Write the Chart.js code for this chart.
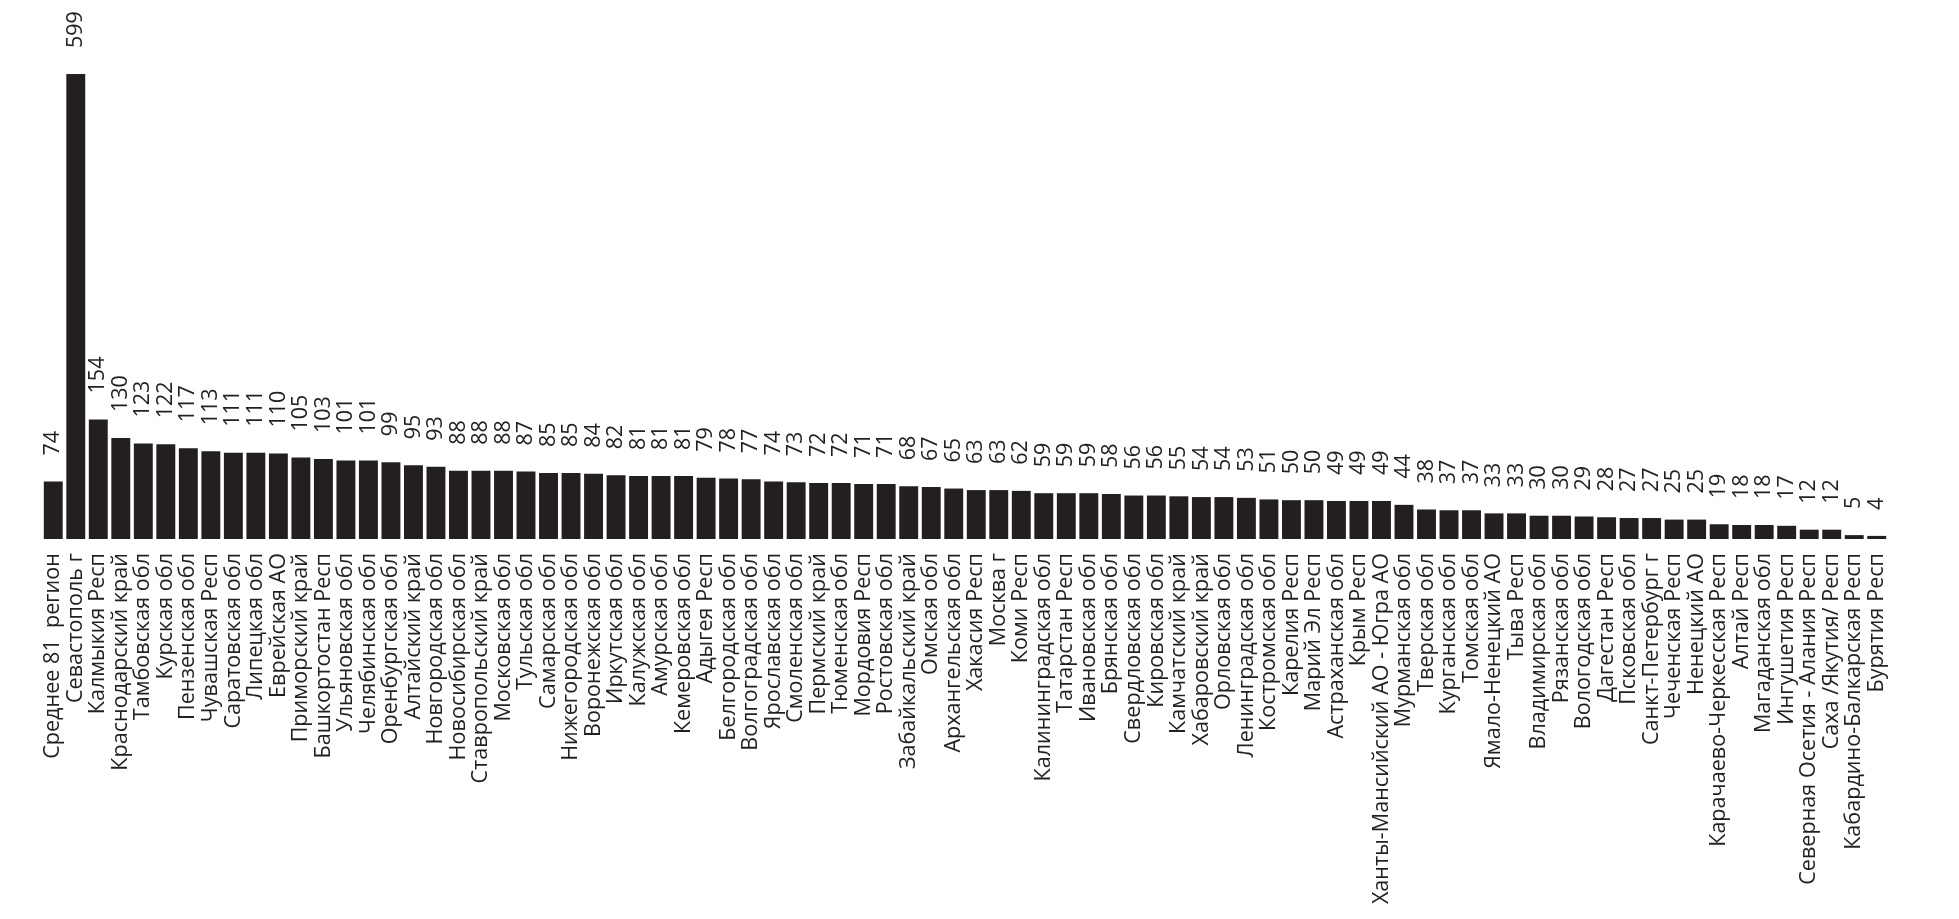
<!DOCTYPE html>
<html>
<head>
<meta charset="utf-8">
<script src="https://cdn.jsdelivr.net/npm/chart.js@4.4.1/dist/chart.umd.min.js"></script>
<style>
  html, body { margin: 0; padding: 0; background: #ffffff; }
  #c { display: block; }
</style>
</head>
<body>
<canvas id="c" width="1959" height="919"></canvas>
<script>
const categories = [
  "Среднее 81  регион", "Севастополь г", "Калмыкия Респ", "Краснодарский край", "Тамбовская обл",
  "Курская обл", "Пензенская обл", "Чувашская Респ", "Саратовская обл", "Липецкая обл",
  "Еврейская АО", "Приморский край", "Башкортостан Респ", "Ульяновская обл", "Челябинская обл",
  "Оренбургская обл", "Алтайский край", "Новгородская обл", "Новосибирская обл", "Ставропольский край",
  "Московская обл", "Тульская обл", "Самарская обл", "Нижегородская обл", "Воронежская обл",
  "Иркутская обл", "Калужская обл", "Амурская обл", "Кемеровская обл", "Адыгея Респ",
  "Белгородская обл", "Волгоградская обл", "Ярославская обл", "Смоленская обл", "Пермский край",
  "Тюменская обл", "Мордовия Респ", "Ростовская обл", "Забайкальский край", "Омская обл",
  "Архангельская обл", "Хакасия Респ", "Москва г", "Коми Респ", "Калининградская обл",
  "Татарстан Респ", "Ивановская обл", "Брянская обл", "Свердловская обл", "Кировская обл",
  "Камчатский край", "Хабаровский край", "Орловская обл", "Ленинградская обл", "Костромская обл",
  "Карелия Респ", "Марий Эл Респ", "Астраханская обл", "Крым Респ", "Ханты-Мансийский АО - Югра АО",
  "Мурманская обл", "Тверская обл", "Курганская обл", "Томская обл", "Ямало-Ненецкий АО",
  "Тыва Респ", "Владимирская обл", "Рязанская обл", "Вологодская обл", "Дагестан Респ",
  "Псковская обл", "Санкт-Петербург г", "Чеченская Респ", "Ненецкий АО", "Карачаево-Черкесская Респ",
  "Алтай Респ", "Магаданская обл", "Ингушетия Респ", "Северная Осетия - Алания Респ", "Саха /Якутия/ Респ",
  "Кабардино-Балкарская Респ", "Бурятия Респ"
];
const values = [
  74, 599, 154, 130, 123,
  122, 117, 113, 111, 111,
  110, 105, 103, 101, 101,
  99, 95, 93, 88, 88,
  88, 87, 85, 85, 84,
  82, 81, 81, 81, 79,
  78, 77, 74, 73, 72,
  72, 71, 71, 68, 67,
  65, 63, 63, 62, 59,
  59, 59, 58, 56, 56,
  55, 54, 54, 53, 51,
  50, 50, 49, 49, 49,
  44, 38, 37, 37, 33,
  33, 30, 30, 29, 28,
  27, 27, 25, 25, 19,
  18, 18, 17, 12, 12,
  5, 4
];

const FONT = '"Open Sans", "Noto Sans", sans-serif';
const INK = '#231f20';

const valueLabels = {
  id: 'valueLabels',
  afterDatasetsDraw(chart) {
    const ctx = chart.ctx;
    const meta = chart.getDatasetMeta(0);
    ctx.save();
    ctx.fillStyle = INK;
    ctx.font = '21.5px ' + FONT;
    ctx.textAlign = 'left';
    ctx.textBaseline = 'middle';
    meta.data.forEach((bar, i) => {
      ctx.save();
      ctx.translate(bar.x, bar.y - 26);
      ctx.rotate(-Math.PI / 2);
      ctx.fillText(String(values[i]), 0, 0);
      ctx.restore();
    });
    ctx.restore();
  }
};

new Chart(document.getElementById('c'), {
  type: 'bar',
  data: {
    labels: categories,
    datasets: [{
      data: values,
      backgroundColor: INK,
      borderWidth: 0,
      barPercentage: 0.84,
      categoryPercentage: 1.0
    }]
  },
  options: {
    responsive: false,
    animation: false,
    devicePixelRatio: 1,
    layout: { padding: { left: 42, right: 71, top: 74, bottom: 0 } },
    plugins: { legend: { display: false }, tooltip: { enabled: false } },
    scales: {
      x: {
        grid: { display: false, drawTicks: false },
        border: { display: false },
        ticks: {
          autoSkip: false,
          maxRotation: 90,
          minRotation: 90,
          padding: 14,
          color: INK,
          font: { family: FONT, size: 21.6 }
        },
        afterFit(scale) { scale.height = 380; }
      },
      y: {
        display: false,
        min: 0,
        max: 599
      }
    }
  },
  plugins: [valueLabels]
});
</script>
</body>
</html>
